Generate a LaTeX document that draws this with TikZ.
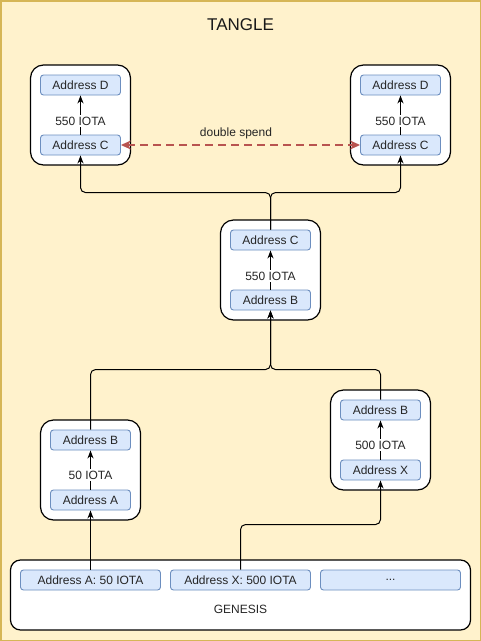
\documentclass[tikz,border=0pt]{standalone}
\usepackage{fontspec}
\setmainfont{Liberation Sans}
\usetikzlibrary{arrows.meta}
\definecolor{bgfill}{HTML}{FFF2CC}
\definecolor{bgdraw}{HTML}{D6B656}
\definecolor{addrfill}{HTML}{DAE8FC}
\definecolor{addrdraw}{HTML}{6C8EBF}
\definecolor{dsred}{HTML}{B85450}
\begin{document}
\begin{tikzpicture}[x=1pt,y=-1pt,
  txt/.style={font=\fontsize{12}{14}\selectfont, text=black!85},
  addr/.style={txt, draw=addrdraw, fill=addrfill, rounded corners=3pt, minimum width=80pt, minimum height=20pt, inner sep=0pt, line width=0.9pt},
  gaddr/.style={addr, minimum width=140pt},
  blockbox/.style={draw=black, fill=white, rounded corners=13pt, line width=1.2pt, minimum width=100pt, minimum height=100pt, inner sep=0pt},
  amount/.style={txt, fill=white, inner sep=1.5pt},
  edge/.style={draw=black, line width=1pt, rounded corners=5pt, -{Stealth[length=8pt,width=6pt,inset=2.5pt]}},
  dspend/.style={draw=dsred, line width=2pt, dash pattern=on 8pt off 5pt, {Stealth[length=10pt,width=9pt,inset=3pt]}-{Stealth[length=10pt,width=9pt,inset=3pt]}}
]
\useasboundingbox (0,0) rectangle (481,641);
\draw[fill=bgfill, draw=bgdraw, line width=1.5pt] (0.75,0.75) rectangle (480.25,640.25);
\node[font=\fontsize{17}{20}\selectfont, text=black!90] (title) at (240.5,25) {TANGLE};

% top-left block
\node[blockbox] (tl) at (80.5,115) {};
\node[addr] (tlD) at (80.5,85) {Address D};
\node[addr] (tlC) at (80.5,145) {Address C};
\draw[edge] (tlC.north) -- (tlD.south);
\node[amount] (tlL) at (80.5,121) {550 IOTA};

% top-right block
\node[blockbox] (tr) at (400.5,115) {};
\node[addr] (trD) at (400.5,85) {Address D};
\node[addr] (trC) at (400.5,145) {Address C};
\draw[edge] (trC.north) -- (trD.south);
\node[amount] (trL) at (400.5,121) {550 IOTA};

% double spend
\draw[dspend] (tlC.east) -- (trC.west);
\node[txt] (dsL) at (236,133) {double spend};

% middle block
\node[blockbox] (m) at (270.5,270) {};
\node[addr] (mC) at (270.5,240) {Address C};
\node[addr] (mB) at (270.5,300) {Address B};
\draw[edge] (mB.north) -- (mC.south);
\node[amount] (mL) at (270.5,276) {550 IOTA};

% lower-left block
\node[blockbox] (ll) at (90.5,470) {};
\node[addr] (llB) at (90.5,440) {Address B};
\node[addr] (llA) at (90.5,500) {Address A};
\draw[edge] (llA.north) -- (llB.south);
\node[amount] (llL) at (90.5,475) {50 IOTA};

% lower-right block
\node[blockbox] (lr) at (380.5,440) {};
\node[addr] (lrB) at (380.5,410) {Address B};
\node[addr] (lrX) at (380.5,470) {Address X};
\draw[edge] (lrX.north) -- (lrB.south);
\node[amount] (lrL) at (380.5,445) {500 IOTA};

% genesis
\node[draw=black, fill=white, rounded corners=10pt, line width=1.2pt, minimum width=460pt, minimum height=70pt, inner sep=0pt] (gen) at (240.5,595) {};
\node[gaddr] (g1) at (90.5,580) {Address A: 50 IOTA};
\node[gaddr] (g2) at (240.5,580) {Address X: 500 IOTA};
\node[gaddr] (g3) at (390.5,580) {...};
\node[txt] (genL) at (240.5,609) {GENESIS};

% connectors
\draw[edge] (mC.north) -- ++(0,-37) -| (tlC.south);
\draw[edge] (mC.north) -- ++(0,-37) -| (trC.south);
\draw[edge] (llB.north) -- ++(0,-60) -| (mB.south);
\draw[edge] (lrB.north) -- ++(0,-30) -| (mB.south);
\draw[edge] (g1.north) -- (llA.south);
\draw[edge] (g2.north) -- ++(0,-45) -| (lrX.south);
\end{tikzpicture}
\end{document}
